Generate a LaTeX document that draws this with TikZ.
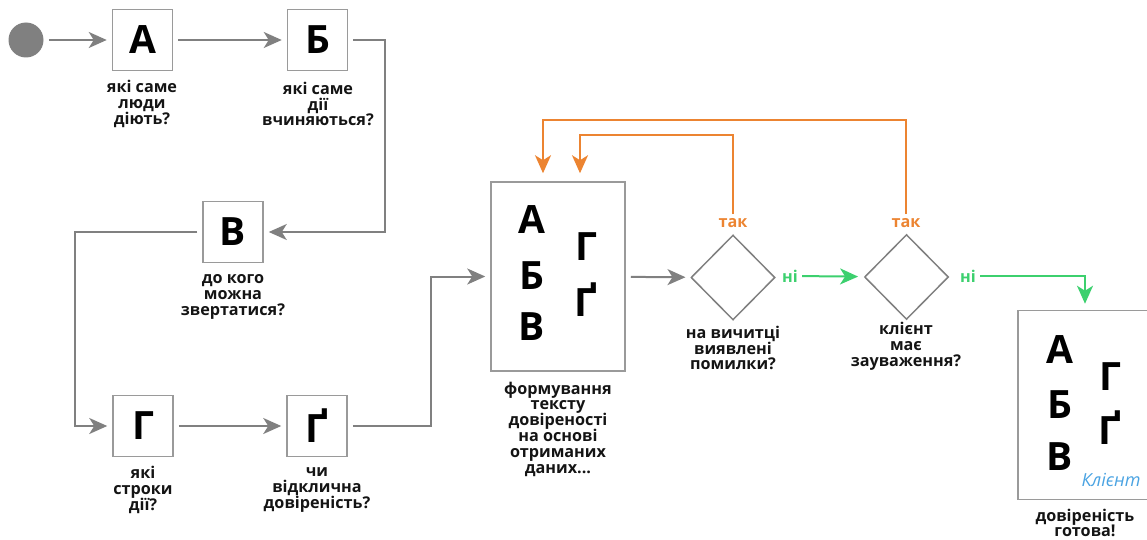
\documentclass[tikz,border=0pt]{standalone}
\usepackage{fontspec}
\setmainfont{Open Sans}
\usetikzlibrary{shapes.geometric,arrows.meta}
\definecolor{linegray}{HTML}{808080}
\definecolor{boxgray}{HTML}{9A9A9A}
\definecolor{flowor}{HTML}{EC8431}
\definecolor{flowgr}{HTML}{3CD06E}
\definecolor{clientblue}{HTML}{4AA3E2}
% even line spacing for the stacked captions
\newcommand\captionfont{\bfseries\fontsize{8.1}{7.9}\selectfont\lineskiplimit=-10pt\relax\lineskip=0pt\relax}
\begin{document}
\begin{tikzpicture}[x=0.5pt,y=-0.5pt,
  letterbox/.style={draw=boxgray,line width=0.75pt,minimum width=30pt,minimum height=30.5pt,inner sep=0pt,
    font=\bfseries\fontsize{19.5}{20}\selectfont},
  bigletter/.style={inner sep=0pt,font=\bfseries\fontsize{19.5}{20}\selectfont},
  caption/.style={align=center,inner sep=0pt,text=black!92,font=\captionfont},
  docbox/.style={draw=boxgray,line width=0.75pt,minimum width=67pt,minimum height=94.5pt,inner sep=0pt},
  decision/.style={diamond,draw=linegray,line width=0.75pt,minimum width=42pt,minimum height=42.5pt,inner sep=0pt},
  tip/.style={-{Stealth[length=9pt,width=8pt,inset=2.5pt]}},
  conn/.style={tip,draw=linegray,line width=1pt,shorten >=2.5pt,shorten <=2.5pt},
  yesconn/.style={tip,draw=flowor,line width=1pt,shorten >=4pt,shorten <=2pt},
  noconn/.style={tip,draw=flowgr,line width=1pt,shorten >=3pt,shorten <=2pt},
  yeslabel/.style={inner sep=0pt,text=flowor,font=\bfseries\fontsize{8.1}{8}\selectfont},
  nolabel/.style={inner sep=0pt,text=flowgr,font=\bfseries\fontsize{8.1}{8}\selectfont}]
\useasboundingbox (0,0) rectangle (1147,540);

% start point
\node[circle,fill=linegray,minimum size=17.5pt,inner sep=0pt] (start) at (26,40) {};

% questions
\node[letterbox] (A) at (142.5,40) {А};
\node[caption] (capA) at (142,104) {які саме\\люди\\діють?};
\node[letterbox] (B) at (317.5,40) {Б};
\node[caption] (capB) at (318,104) {які саме\\дії\\вчиняються?};
\node[letterbox] (V) at (233,232) {В};
\node[caption] (capV) at (233,297) {до кого\\можна\\звертатися?};
\node[letterbox] (G) at (143,426) {Г};
\node[caption] (capG) at (143,490) {які\\строки\\дії?};
\node[letterbox] (GG) at (317,426) {Ґ};
\node[caption] (capGG) at (317,490) {чи\\відклична\\довіреність?};

% drafting
\node[docbox] (draft) at (558,276.5) {};
\node[bigletter] (dA) at (532,220) {А};
\node[bigletter] (dB) at (532,276) {Б};
\node[bigletter] (dV) at (532,327) {В};
\node[bigletter] (dG) at (586,247) {Г};
\node[bigletter] (dGG) at (586,300) {Ґ};
\node[caption] (capdraft) at (558,429) {формування\\тексту\\довіреності\\на основі\\отриманих\\даних...};

% checks
\node[decision] (d1) at (733,277.5) {};
\node[caption] (capd1) at (733,348) {на вичитці\\виявлені\\помилки?};
\node[yeslabel] (yes1) at (733,223) {так};
\node[nolabel] (no1) at (790,276) {ні};
\node[decision] (d2) at (906.5,277) {};
\node[caption] (capd2) at (906,346) {клієнт\\має\\зауваження?};
\node[yeslabel] (yes2) at (906,223) {так};
\node[nolabel] (no2) at (968,276) {ні};

% result
\node[docbox,minimum width=67pt] (final) at (1085,405) {};
\node[bigletter] (fA) at (1060,350) {А};
\node[bigletter] (fB) at (1060,405) {Б};
\node[bigletter] (fV) at (1060,457) {В};
\node[bigletter] (fG) at (1110,377) {Г};
\node[bigletter] (fGG) at (1110,428) {Ґ};
\node[inner sep=0pt,text=clientblue,font=\itshape\fontsize{9}{9}\selectfont] (client) at (1111,480) {Клієнт};
\node[caption] (capfinal) at (1085,523) {довіреність\\готова!};

% turning points
\coordinate (bturn) at (385,130);
\coordinate (vturn) at (75,330);
\coordinate (ggturn) at (431,350);
\coordinate (back1) at (580,135);
\coordinate (back2) at (543,120);

% connectors
\draw[conn] (start) -- (A);
\draw[conn] (A) -- (B);
\draw[conn] (B.east) -| (bturn) |- (V.east);
\draw[conn] (V.west) -| (vturn) |- (G.west);
\draw[conn] (G) -- (GG);
\draw[conn] (GG.east) -| (ggturn) |- (draft.west);
\draw[conn] (draft) -- (d1);
\draw[noconn] (no1) -- (d2);
\draw[noconn] (no2.east) -| (final.north);
\draw[yesconn] (yes1.north) |- (back1) -- (back1 |- draft.north);
\draw[yesconn] (yes2.north) |- (back2) -- (back2 |- draft.north);
\end{tikzpicture}
\end{document}
